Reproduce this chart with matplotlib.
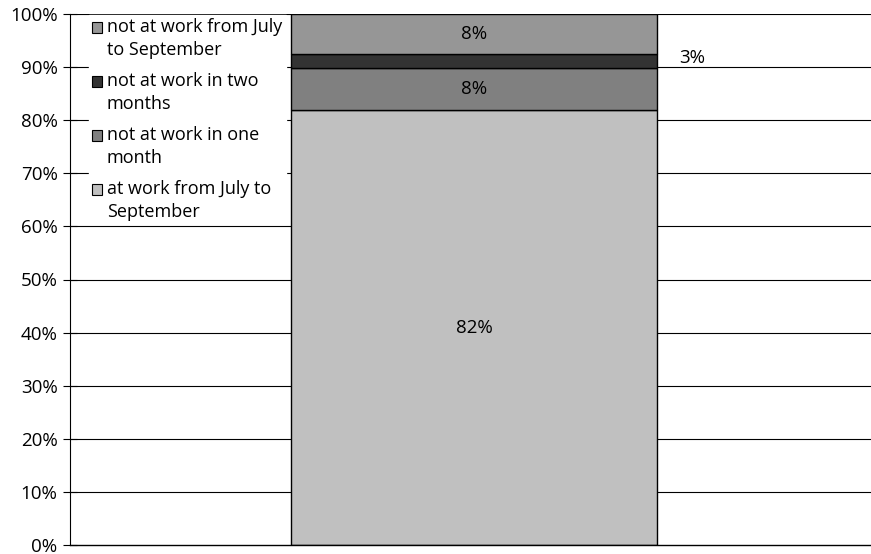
import matplotlib
matplotlib.use("Agg")
import matplotlib.pyplot as plt
from matplotlib.patches import Patch

plt.rcParams['font.family'] = ['Open Sans', 'DejaVu Sans']

series = ["at work from July to\nSeptember", "not at work in one\nmonth",
          "not at work in two\nmonths", "not at work from July\nto September"]
values = [81.9, 8.0, 2.5, 7.6]
labels = ["82%", "8%", "3%", "8%"]
colors = ["#C0C0C0", "#808080", "#333333", "#969696"]
yticks = list(range(0, 101, 10))

FS = 13.5
LFS = 13
fig = plt.figure(figsize=(8.71, 5.54), dpi=100)
ax = fig.add_axes([70/871, 1-545/554, 801/871, 531/554])

for t in yticks[1:]:
    ax.axhline(t, color="black", lw=0.8, zorder=0)

bottom = 0
for v, c, lab in zip(values, colors, labels):
    ax.bar(0, v, width=1.0, bottom=bottom, color=c, edgecolor="black", lw=1.0, zorder=2)
    if lab == "3%":
        ax.text(0.595, bottom + v/2 + 0.6, lab, ha="center", va="center", fontsize=FS)
    else:
        ax.text(0, bottom + v/2, lab, ha="center", va="center", fontsize=FS)
    bottom += v

ax.set_xlim(-1.104, 1.085)
ax.set_ylim(0, 100)
ax.set_yticks(yticks)
ax.set_yticklabels([f"{t}%" for t in yticks], fontsize=FS)
ax.set_xticks([])
ax.tick_params(axis="y", direction="inout", length=10, width=0.8, pad=4)
for s in ["top", "right"]:
    ax.spines[s].set_visible(False)
ax.spines["left"].set_linewidth(0.8)
ax.spines["bottom"].set_linewidth(1.0)

handles = [Patch(facecolor=c, edgecolor="black", lw=0.8) for c in colors][::-1]
leg = ax.legend(handles, series[::-1], loc="upper left", bbox_to_anchor=(0.012, 1.016),
                frameon=True, fontsize=LFS, handlelength=0.55, handleheight=0.55,
                handletextpad=0.25, labelspacing=0.75, borderpad=0.2, fancybox=False)
leg.get_frame().set_edgecolor("white")
leg.get_frame().set_facecolor("white")
leg.get_frame().set_alpha(1)
leg.set_zorder(5)
for t in leg.get_texts():
    t.set_linespacing(1.32)
for h in leg.legend_handles:
    h.set_y(h.get_y() + 8.5)

fig.savefig("out.png", dpi=100)
